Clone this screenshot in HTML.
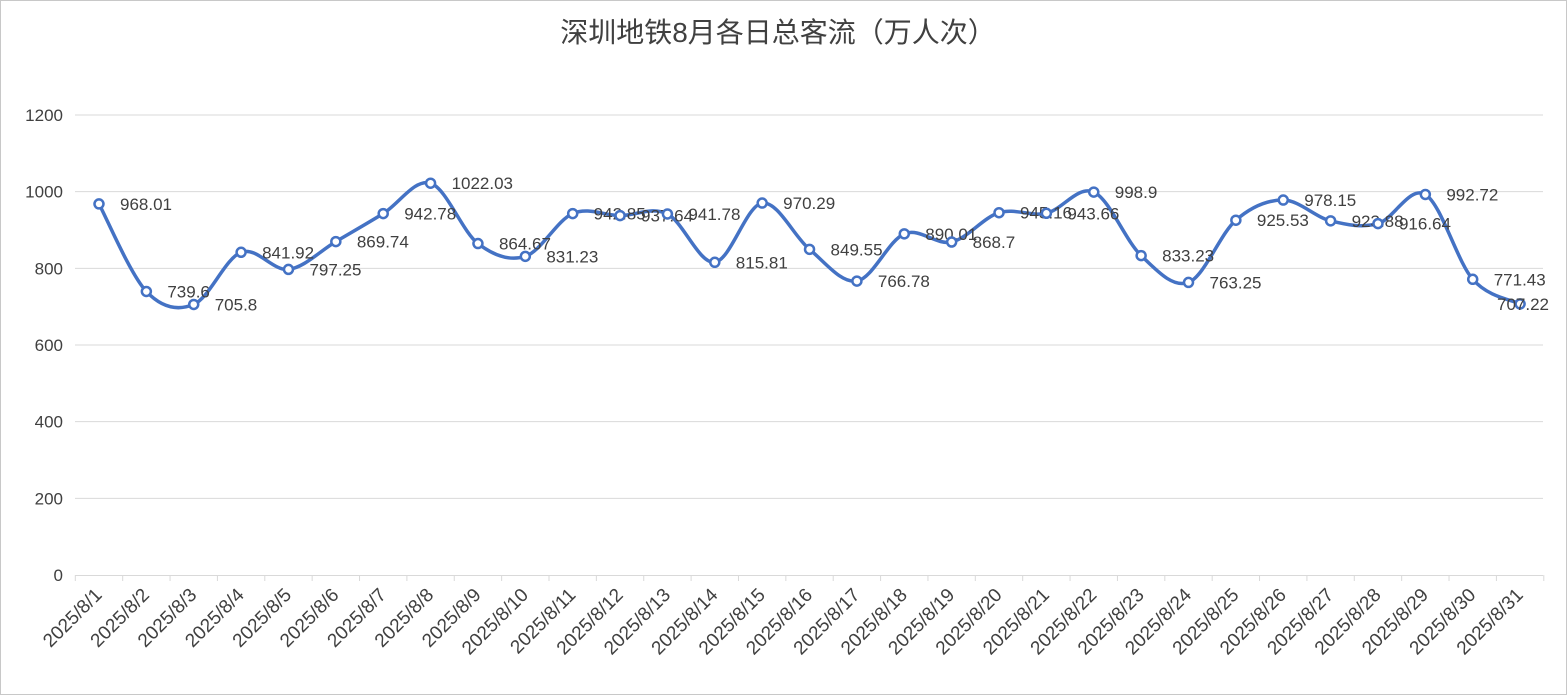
<!DOCTYPE html>
<html><head><meta charset="utf-8"><style>
html,body{margin:0;padding:0;background:#fff}
svg{display:block}
text{font-family:"Liberation Sans","Noto Sans CJK SC",sans-serif;fill:#404040}
</style></head><body>
<svg id="s" width="1568" height="696" xmlns="http://www.w3.org/2000/svg">
<rect x="0.5" y="0.5" width="1566" height="694" fill="#fff" stroke="#c8c8c8"/>
<text x="778" y="42" font-size="28" text-anchor="middle" fill="#404040">深圳地铁8月各日总客流（万人次）</text>
</svg>
<script>
var d=[968.01,739.6,705.8,841.92,797.25,869.74,942.78,1022.03,864.67,831.23,942.85,937.64,941.78,815.81,970.29,849.55,766.78,890.01,868.7,945.16,943.66,998.9,833.23,763.25,925.53,978.15,923.88,916.64,992.72,771.43,707.22];
var s=document.getElementById('s'),h='';
function Y(v){return 575-v*0.383333}
function X(i){return 75.3+47.37*(i+0.5)}
for(var v=0;v<=1200;v+=200){var y=Y(v);
 if(v>0)h+='<line x1="75" x2="1543" y1="'+y+'" y2="'+y+'" stroke="#d9d9d9"/>';
 h+='<text x="63" y="'+(y+6)+'" font-size="17" text-anchor="end">'+v+'</text>';}
h+='<line x1="75" x2="1543" y1="575.5" y2="575.5" stroke="#d9d9d9"/>';
for(var k=0;k<=31;k++){var x=75.3+47.37*k;h+='<line x1="'+x+'" x2="'+x+'" y1="575" y2="581" stroke="#d9d9d9"/>';}
for(var i=0;i<31;i++){var x=X(i)+4,y=596;
 h+='<text font-size="19" text-anchor="end" transform="translate('+x+','+y+') rotate(-45)">2025/8/'+(i+1)+'</text>';}
var p=d.map(function(v,i){return [X(i),Y(v)]});
var path='M'+p[0][0]+','+p[0][1];
for(var i=0;i<p.length-1;i++){var p0=p[i-1]||p[i],p1=p[i],p2=p[i+1],p3=p[i+2]||p2,t=0.5/3*1.0;
 path+=' C'+(p1[0]+(p2[0]-p0[0])*t)+','+(p1[1]+(p2[1]-p0[1])*t)+' '+(p2[0]-(p3[0]-p1[0])*t)+','+(p2[1]-(p3[1]-p1[1])*t)+' '+p2[0]+','+p2[1];}
h+='<path d="'+path+'" fill="none" stroke="#4472c4" stroke-width="3.5" stroke-linejoin="round"/>';
p.forEach(function(q,i){h+='<circle cx="'+q[0]+'" cy="'+q[1]+'" r="4.5" fill="#fff" stroke="#4472c4" stroke-width="2.5"/>';
 var lx=i==30?1497:q[0]+21;
 h+='<text x="'+lx+'" y="'+(q[1]+6)+'" font-size="17">'+d[i]+'</text>';});
s.insertAdjacentHTML('beforeend',h);
</script>
</body></html>
